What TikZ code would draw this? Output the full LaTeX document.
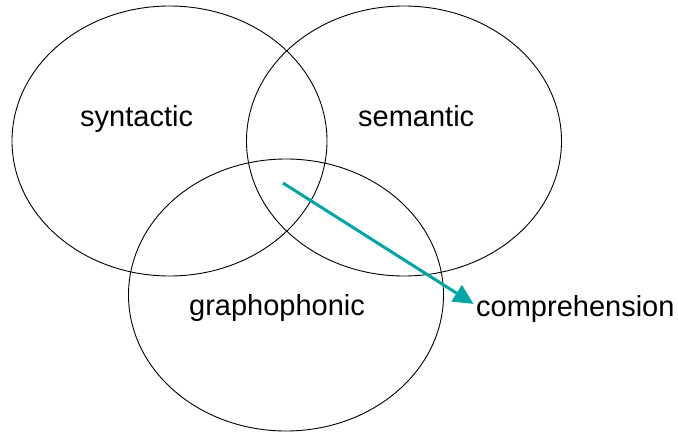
\documentclass[tikz,border=0pt]{standalone}
\usepackage{fontspec}
\setmainfont{Liberation Sans}
\usetikzlibrary{arrows.meta,shapes.geometric}
\definecolor{Teal}{HTML}{00A6A6}

\begin{document}
\begin{tikzpicture}[x=1pt,y=-1pt,font=\fontsize{29}{34}\selectfont,>={Triangle[length=20pt,width=19pt]}]
    \useasboundingbox (0,0) rectangle (678,433);
    \tikzset{ring/.style={draw,ellipse,line width=0.9pt,inner sep=0pt,outer sep=0pt,minimum width=315pt,minimum height=270pt},
      word/.style={inner sep=0pt,anchor=base west}}
    \node[ring] (synring) at (169.5,141) {};
    \node[ring] (semring) at (404,141) {};
    \node[ring,minimum height=272pt] (graring) at (286,295) {};
    \node[word] (syn) at (80,127) {syntactic};
    \node[word] (sem) at (358,127) {semantic};
    \node[word] (gra) at (189,315) {graphophonic};
    \node[word] (comp) at (476,316) {comprehension};
    \coordinate (core) at (283,183);
    \draw[Teal,line width=3pt,->,shorten >=3pt] (core) -- ([yshift=3pt]comp.west);
  \end{tikzpicture}
\end{document}
